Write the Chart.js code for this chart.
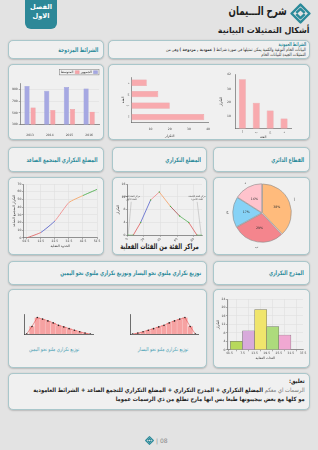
<!DOCTYPE html>
<html lang="ar">
<head>
<meta charset="utf-8">
<script src="https://cdn.jsdelivr.net/npm/chart.js@4.4.1/dist/chart.umd.min.js"></script>
<style>
html, body { margin: 0; padding: 0; }
body { width: 318px; height: 450px; background: #e3e3e3; position: relative; overflow: hidden; font-family: "DejaVu Sans", sans-serif; }
.box { position: absolute; background: #f0f0f0; border: 1px solid #a9c7cb; border-radius: 5px; box-sizing: border-box; box-shadow: 0 0.5px 1.5px rgba(0,0,0,0.18); }
.hd { direction: rtl; color: #2b8a9a; font-weight: bold; font-size: 6.4px; display: flex; align-items: center; padding-right: 5px; white-space: nowrap; }
.hd span { display: inline-block; transform: scaleX(0.7); transform-origin: right center; }
canvas { position: absolute; }
.t { position: absolute; direction: rtl; white-space: nowrap; }
.r { transform-origin: right center; }
.c { transform-origin: center center; text-align: center; }
</style>
</head>
<body>

<!-- header -->
<div class="t" style="left:25px;top:-6px;width:32px;height:35px;background:#2d8898;border-radius:0 0 6px 6px;color:#fff;font-weight:bold;font-size:6.6px;text-align:center;line-height:9px;padding-top:9px;box-sizing:border-box;">الفصل<br>الاول</div>
<svg style="position:absolute;left:290px;top:3px" width="21" height="21" viewBox="0 0 20 20">
  <g fill="none" stroke="#2b8a9a" stroke-width="2.3" stroke-linejoin="round">
    <path d="M10 1.5 L18.5 10 L10 18.5 L1.5 10 Z"/>
    <path d="M6 9.5 L10 5.5 L14 9.5 M6 10.5 L10 14.5 L14 10.5"/>
  </g>
</svg>
<div class="t r" style="right:31px;top:4px;font-size:12px;font-weight:bold;color:#1e1e1e;transform:scaleX(0.72);">شرح الـــيمان</div>
<div class="t r" style="right:8px;top:25px;font-size:8.4px;font-weight:bold;color:#1e1e1e;transform:scaleX(0.95);">أشكال التمثيلات البيانية</div>

<!-- row 1 -->
<div class="box hd" style="left:8px;top:40px;width:96px;height:19px;"><span>الشرائط المزدوجة</span></div>
<div class="box" style="left:108px;top:40px;width:202px;height:19px;"></div>
<div class="t r" style="right:12px;top:41px;font-size:5.4px;font-weight:bold;color:#2b8a9a;transform:scaleX(0.6);">الشرائط العمودية</div>
<div class="t r" style="right:12px;top:47px;font-size:4.5px;color:#333;line-height:5.4px;transform:scaleX(0.8);">البيانات الخام النوعية والكمية يمكن تمثيلها في صورة شرائط <b>( عمودية , مزدوجة )</b> وهي من<br>التمثيلات الجيدة للبيانات الخام</div>

<!-- row 2 -->
<div class="box" style="left:8px;top:64px;width:96px;height:76px;"></div>
<div class="box" style="left:108px;top:64px;width:202px;height:76px;"></div>

<!-- row 3 -->
<div class="box hd" style="left:8px;top:147px;width:96px;height:25px;"><span>المضلع التكراري المتجمع الصاعد</span></div>
<div class="box hd" style="left:112px;top:147px;width:95px;height:25px;"><span>المضلع التكراري</span></div>
<div class="box hd" style="left:213px;top:147px;width:97px;height:25px;"><span>القطاع الدائري</span></div>
<div class="box" style="left:8px;top:177px;width:96px;height:78px;"></div>
<div class="box" style="left:112px;top:177px;width:95px;height:78px;"></div>
<div class="box" style="left:213px;top:177px;width:97px;height:78px;"></div>
<div class="t c" style="left:102px;width:115px;top:242px;font-size:7.6px;font-weight:bold;color:#1e1e1e;transform:scaleX(0.7);">مراكز الفئة من الفئات الفعلية</div>

<!-- row 4 -->
<div class="box hd" style="left:8px;top:261px;width:199px;height:24px;"><span>توزيع تكراري ملتوي نحو اليسار وتوزيع تكراري ملتوي نحو اليمين</span></div>
<div class="box hd" style="left:213px;top:261px;width:97px;height:24px;"><span>المدرج التكراري</span></div>
<div class="box" style="left:8px;top:289px;width:199px;height:79px;"></div>
<div class="box" style="left:213px;top:289px;width:97px;height:79px;"></div>
<div class="t c" style="left:8px;width:92px;top:346px;font-size:5.4px;color:#3f9db2;transform:scaleX(0.78);">توزيع تكراري ملتو نحو اليمين</div>
<div class="t c" style="left:117px;width:92px;top:346px;font-size:5.4px;color:#3f9db2;transform:scaleX(0.78);">توزيع تكراري ملتو نحو اليسار</div>

<!-- comment -->
<div class="box" style="left:8px;top:373px;width:302px;height:37px;"></div>
<div class="t r" style="right:13px;top:375.5px;font-size:6px;line-height:9.3px;color:#1e1e1e;font-weight:bold;transform:scaleX(0.86);">تعليق:<br><span style="font-weight:normal;color:#777;">الرسمات اي معكم</span> المضلع التكراري + المدرج التكراري + المضلع التكراري للتجمع الصاعد + الشرائط العامودية<br>مو كلها مع بعض بيجيبونها طبعا بس انها مارح تطلع من ذي الرسمات عموما</div>

<!-- footer -->
<svg style="position:absolute;left:145px;top:436px" width="9" height="9" viewBox="0 0 20 20">
  <g fill="none" stroke="#2b8a9a" stroke-width="2.6" stroke-linejoin="round">
    <path d="M10 1.5 L18.5 10 L10 18.5 L1.5 10 Z"/>
    <path d="M6 9.5 L10 5.5 L14 9.5 M6 10.5 L10 14.5 L14 10.5"/>
  </g>
</svg>
<div class="t" style="left:156px;top:437px;font-size:6px;color:#888;direction:ltr;">| 08</div>

<canvas id="c1" width="94" height="74" style="left:9px;top:65px"></canvas>
<canvas id="c2" width="96" height="68" style="left:117px;top:71px"></canvas>
<canvas id="c3" width="90" height="72" style="left:215px;top:68px"></canvas>
<canvas id="c4" width="93" height="72" style="left:9px;top:180px"></canvas>
<canvas id="c5" width="93" height="64" style="left:113px;top:180px"></canvas>
<canvas id="c6" width="94" height="74" style="left:215px;top:179px"></canvas>
<canvas id="c7" width="81" height="32" style="left:16px;top:310px"></canvas>
<canvas id="c8" width="80" height="32" style="left:122px;top:310px"></canvas>
<canvas id="c9" width="94" height="68" style="left:214px;top:293px"></canvas>

<script>
// الشرائط المزدوجة
const years = ['2013', '2014', '2015', '2016'];
const countValues = [965, 880, 945, 920];
const avgValues = [590, 550, 565, 520];

// الشرائط العمودية والأفقية
const barCats = ['أ', 'ب', 'ج', 'د'];
const barValues = [38, 20, 14, 8];

// المضلع التكراري المتجمع الصاعد
const cumBounds = [2.5, 12.5, 22.5, 32.5, 42.5, 52.5];
const cumValues = [0, 7, 22, 46, 55, 63];
const cumTicks = [0, 2.5, 12.5, 22.5, 32.5, 42.5, 52.5];

// المضلع التكراري
const polyCenters = [1, 7, 16, 28, 38.5, 52, 63, 74, 84, 89];
const polyValues = [0, 0, 4, 11, 13.5, 9, 6, 4, 0, 0];

// القطاع الدائري
const pieLabels = ['أ', 'ب', 'ج', 'د'];
const pieValues = [38, 29, 17, 16];

// التوزيعات الملتوية
const skewCats = ['1', '2', '3', '4', '5', '6', '7', '8', '9', '10', '11', '12', '13'];
const rightSkew = [0, 34, 74, 67, 59, 50, 39, 32, 24, 17, 10, 4, 0];
const leftSkew = [0, 4, 10, 17, 24, 32, 39, 50, 59, 67, 74, 34, 0];

// المدرج التكراري
const histCenters = [4.5, 10.5, 16.5, 22.5, 28.5];
const histValues = [4, 9, 19, 11, 7];
const histTicks = [0, 1.5, 7.5, 13.5, 19.5, 25.5, 31.5, 37.5];

Chart.defaults.font.family = "'DejaVu Sans', sans-serif";
Chart.defaults.animation = false;
Chart.defaults.responsive = false;
Chart.defaults.events = [];
Chart.defaults.plugins.tooltip.enabled = false;
Chart.defaults.plugins.legend.display = false;

// small axis used by every little chart
const axis = (title, more) => Object.assign({
    grid: { color: '#dcdcdc', lineWidth: 0.5, tickLength: 1.5, tickColor: '#666' },
    border: { color: '#555', width: 0.6 },
    ticks: { font: { size: 3 }, color: '#444', padding: 0.5, autoSkip: false, maxRotation: 0 },
    title: { display: !!title, text: title, font: { size: 3.4 }, color: '#333', padding: 0.5 }
}, more || {});

// segments coloured one by one
const segColor = (colors) => ({ borderColor: ctx => colors[ctx.p0DataIndex % colors.length] });

// border around the legend
const legendBox = {
    id: 'legendBox',
    afterDraw(chart) {
        const boxes = chart.legend && chart.legend.legendHitBoxes;
        if (!boxes || !boxes.length) return;
        const l = Math.min(...boxes.map(b => b.left)) - 1.5;
        const r = Math.max(...boxes.map(b => b.left + b.width)) + 1.5;
        const t = boxes[0].top - 1;
        const ctx = chart.ctx;
        ctx.save();
        ctx.strokeStyle = '#777';
        ctx.lineWidth = 0.5;
        ctx.strokeRect(l, t, r - l, boxes[0].height + 2);
        ctx.restore();
    }
};

// 1 - double bars
new Chart(document.getElementById('c1'), {
    type: 'bar',
    data: {
        labels: years,
        datasets: [
            { label: 'الجمهور', data: countValues, backgroundColor: '#a6a8e2', borderColor: '#8c8fd0', borderWidth: 0.4 },
            { label: 'المتوسط', data: avgValues, backgroundColor: '#f7a5aa', borderColor: '#e48a90', borderWidth: 0.4 }
        ]
    },
    options: {
        datasets: { bar: { categoryPercentage: 0.62, barPercentage: 0.85 } },
        layout: { padding: { top: 4, right: 4, left: 2, bottom: 1 } },
        plugins: {
            legend: { display: true, align: 'start', rtl: true,
                labels: { font: { size: 3.4 }, boxWidth: 4, boxHeight: 3, padding: 1.5, color: '#333' } }
        },
        scales: {
            x: axis('', { grid: { display: false }, ticks: { font: { size: 3 }, color: '#444', padding: 1 } }),
            y: axis('', { min: 300, max: 1000, ticks: { stepSize: 100, font: { size: 3 }, color: '#444', padding: 1 } })
        }
    },
    plugins: [legendBox]
});

// 2 - horizontal bars
new Chart(document.getElementById('c2'), {
    type: 'bar',
    data: { labels: barCats, datasets: [{ data: barValues, backgroundColor: '#f8aaae', borderColor: '#e68d92', borderWidth: 0.5 }] },
    options: {
        indexAxis: 'y',
        datasets: { bar: { categoryPercentage: 0.55, barPercentage: 1 } },
        layout: { padding: { top: 6, right: 4, left: 4, bottom: 0 } },
        scales: {
            x: axis('التكرار', { min: 0, max: 40, grid: { display: false, tickLength: 1.5 }, ticks: { stepSize: 10, font: { size: 3 }, color: '#444', callback: v => v === 0 ? '' : v } }),
            y: axis('الفئة', { reverse: true, grid: { display: false, tickLength: 1.5 } })
        }
    }
});

// 3 - vertical bars
new Chart(document.getElementById('c3'), {
    type: 'bar',
    data: { labels: barCats, datasets: [{ data: barValues, backgroundColor: '#f8aaae', borderColor: '#e68d92', borderWidth: 0.5 }] },
    options: {
        datasets: { bar: { categoryPercentage: 0.5, barPercentage: 1 } },
        layout: { padding: { top: 6, right: 14, left: 4, bottom: 0 } },
        scales: {
            x: axis('الفئة', { grid: { display: false, tickLength: 1.5 } }),
            y: axis('التكرار', { min: 0, max: 42, grid: { display: false, tickLength: 1.5 }, ticks: { stepSize: 10, font: { size: 3 }, color: '#444', callback: v => v === 0 ? '' : v } })
        }
    }
});

// 4 - cumulative polygon
new Chart(document.getElementById('c4'), {
    type: 'line',
    data: {
        datasets: [{
            data: cumBounds.map((b, i) => ({ x: b, y: cumValues[i] })),
            borderWidth: 0.9, pointRadius: 0, tension: 0.15,
            segment: segColor(['#e06868', '#5a64c8', '#f08f8f', '#f4a66a', '#4fb04f'])
        }]
    },
    options: {
        layout: { padding: { top: 4, right: 5, left: 3, bottom: 3 } },
        scales: {
            x: axis('الحدود الفعلية', { type: 'linear', min: 0, max: 52.5,
                afterBuildTicks: s => { s.ticks = cumTicks.map(v => ({ value: v })); } }),
            y: axis('التكرار المتجمع الصاعد', { min: 0, max: 70, ticks: { stepSize: 5, font: { size: 3 }, color: '#444', padding: 0.5 } })
        }
    }
});

// notes that point at the first and last class marks
const polyNotes = {
    id: 'polyNotes',
    afterDraw(chart) {
        const ctx = chart.ctx;
        const xs = chart.scales.x, ys = chart.scales.y;
        const last = polyCenters.length - 1;
        const notes = [
            { i: 0, tx: xs.getPixelForValue(polyCenters[0]) + 3, lines: ['مركز الفئة السابقة', 'للفئة الأولى'] },
            { i: last, tx: xs.getPixelForValue(polyCenters[last]) - 4, lines: ['مركز الفئة اللاحقة', 'للفئة الأخيرة'] }
        ];
        const ty = ys.getPixelForValue(12);
        ctx.save();
        ctx.font = "2.3px 'DejaVu Sans'";
        ctx.textAlign = 'center';
        ctx.fillStyle = '#444';
        notes.forEach(n => {
            n.lines.forEach((l, k) => ctx.fillText(l, n.tx, ty + k * 3.4));
            ctx.strokeStyle = '#999';
            ctx.lineWidth = 0.4;
            ctx.beginPath();
            ctx.moveTo(n.tx, ty + 5);
            ctx.lineTo(xs.getPixelForValue(polyCenters[n.i]), ys.getPixelForValue(polyValues[n.i]) - 1);
            ctx.stroke();
        });
        ctx.restore();
    }
};

// 5 - frequency polygon
new Chart(document.getElementById('c5'), {
    type: 'line',
    data: {
        datasets: [{
            data: polyCenters.map((c, i) => ({ x: c, y: polyValues[i] })),
            borderWidth: 0.8, pointRadius: 0.7, pointBackgroundColor: '#4fb04f', pointBorderWidth: 0,
            segment: segColor(['#4fb04f', '#e05858', '#5662cc', '#f08a8a', '#f4a064', '#a44848', '#5bb05b', '#e05858', '#4fb04f'])
        }]
    },
    options: {
        layout: { padding: { top: 3, right: 4, left: 3, bottom: 1 } },
        scales: {
            x: axis('', { type: 'linear', min: 0, max: 90, ticks: { stepSize: 10, font: { size: 3 }, color: '#444', padding: 0.5 } }),
            y: axis('التكرار', { min: 0, max: 16, ticks: { stepSize: 2, font: { size: 3 }, color: '#444', padding: 0.5 } })
        }
    },
    plugins: [polyNotes]
});

// labels for the pie
const pieText = {
    id: 'pieText',
    afterDraw(chart) {
        const ctx = chart.ctx;
        const arcs = chart.getDatasetMeta(0).data;
        ctx.save();
        ctx.textAlign = 'center';
        ctx.textBaseline = 'middle';
        ctx.fillStyle = '#333';
        arcs.forEach((a, i) => {
            const mid = (a.startAngle + a.endAngle) / 2;
            const rIn = a.outerRadius * 0.55, rOut = a.outerRadius + 6;
            ctx.font = "3.2px 'DejaVu Sans'";
            ctx.fillText(pieValues[i] + '%', a.x + Math.cos(mid) * rIn, a.y + Math.sin(mid) * rIn);
            ctx.font = "3.6px 'DejaVu Sans'";
            ctx.fillText(pieLabels[i], a.x + Math.cos(mid) * rOut, a.y + Math.sin(mid) * rOut);
        });
        ctx.restore();
    }
};

// 6 - pie
new Chart(document.getElementById('c6'), {
    type: 'pie',
    data: {
        labels: pieLabels,
        datasets: [{ data: pieValues, backgroundColor: ['#ffbb7c', '#f4858d', '#86d2f6', '#ffc3cc'], borderColor: '#8a8a8a', borderWidth: 0.6, offset: 2 }]
    },
    options: { layout: { padding: { top: 4, bottom: 10, left: 16, right: 16 } } },
    plugins: [pieText]
});

// 7, 8 - skewed distributions
const skewChart = (id, values) => new Chart(document.getElementById(id), {
    data: {
        labels: skewCats,
        datasets: [
            { type: 'line', data: values, borderColor: '#e45050', borderWidth: 0.6, pointRadius: 0.8, pointBackgroundColor: '#222', pointBorderWidth: 0 },
            { type: 'bar', data: values, backgroundColor: '#f6a2a2', borderColor: '#fbd3d3', borderWidth: 0.5, categoryPercentage: 1, barPercentage: 1 }
        ]
    },
    options: {
        layout: { padding: { top: 0, right: 2, left: 0, bottom: 0 } },
        scales: {
            x: { grid: { display: false }, ticks: { display: false }, border: { color: '#333', width: 0.7 } },
            y: { min: 0, max: 90, grid: { display: false }, ticks: { display: false }, border: { color: '#333', width: 0.7 } }
        }
    }
});
skewChart('c7', rightSkew);
skewChart('c8', leftSkew);

// 9 - histogram
new Chart(document.getElementById('c9'), {
    type: 'bar',
    data: {
        datasets: [{
            data: histCenters.map((c, i) => ({ x: c, y: histValues[i] })),
            backgroundColor: ['#b7d95c', '#d8aadb', '#f0e56c', '#addb7c', '#f0a8d2'],
            borderColor: '#6e6e6e', borderWidth: 0.5, categoryPercentage: 1, barPercentage: 1, barThickness: 'flex'
        }]
    },
    options: {
        layout: { padding: { top: 6, right: 5, left: 2, bottom: 0 } },
        scales: {
            x: axis('الفئات الفعلية', { type: 'linear', min: 0, max: 37.5, offset: false,
                afterBuildTicks: s => { s.ticks = histTicks.map(v => ({ value: v })); } }),
            y: axis('التكرار', { min: 0, max: 24, ticks: { stepSize: 2, font: { size: 3 }, color: '#444', padding: 0.5 } })
        }
    }
});
</script>
</body>
</html>
